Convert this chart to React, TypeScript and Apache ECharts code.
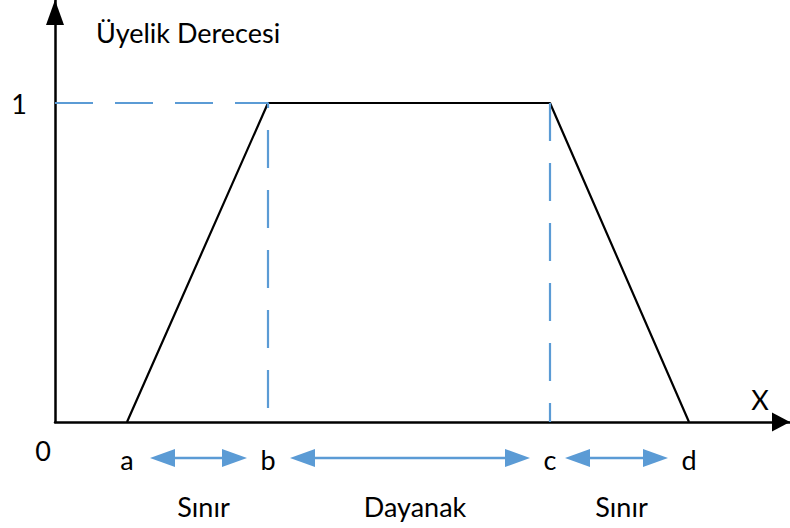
import React, { useEffect, useRef } from 'react';
import * as echarts from 'echarts';

// ---- data ----
const pointLabels = ['a', 'b', 'c', 'd'];
const pointX = [72, 213, 495, 634];
const membership = [0, 1, 1, 0];
const spanLabels = ['Sınır', 'Dayanak', 'Sınır'];
const yTickValues = [1];
const yTickLabels = ['1'];
const originLabel = '0';
const xAxisName = 'X';
const yAxisName = 'Üyelik Derecesi';
const xMax = 735;
const yMax = 422 / 319;

const FONT = 'Lato';
const FS = 27;
const BLUE = '#5B9BD5';

export default function App() {
  const ref = useRef<HTMLDivElement>(null);
  useEffect(() => {
    const chart = echarts.init(ref.current!, null, { renderer: 'svg' });
    const option: any = {
      animation: false,
      grid: { left: 55, right: 0, top: 0, bottom: 106, containLabel: false, outerBoundsMode: 'none' },
      xAxis: {
        type: 'value',
        min: 0,
        max: xMax,
        axisLine: {
          show: true,
          onZero: false,
          symbol: ['none', 'triangle'],
          symbolSize: [19, 18],
          symbolOffset: [0, -9],
          lineStyle: { color: '#000', width: 2.5 },
        },
        axisTick: { show: false },
        splitLine: { show: false },
        axisLabel: {
          customValues: pointX,
          formatter: (v: number) => pointLabels[pointX.indexOf(v)] ?? '',
          margin: 24,
          color: '#000',
          fontFamily: FONT,
          fontSize: FS,
        },
      },
      yAxis: {
        type: 'value',
        min: 0,
        max: yMax,
        axisLine: {
          show: true,
          symbol: ['none', 'triangle'],
          symbolSize: [18, 25],
          symbolOffset: [0, -12.5],
          lineStyle: { color: '#000', width: 2.5 },
        },
        axisTick: { show: false },
        splitLine: { show: false },
        axisLabel: {
          customValues: yTickValues,
          formatter: (v: number) => yTickLabels[yTickValues.indexOf(v)] ?? '',
          margin: 28,
          color: '#000',
          fontFamily: FONT,
          fontSize: FS,
        },
      },
      series: [
        {
          type: 'line',
          data: pointX.map((x, i) => [x, membership[i]]),
          symbol: 'none',
          lineStyle: { color: '#000', width: 2.2 },
          clip: false,
          z: 2,
        },
        {
          type: 'line',
          data: [
            [0, membership[1]],
            [pointX[1], membership[1]],
            [pointX[1], 0],
          ],
          symbol: 'none',
          lineStyle: { color: BLUE, width: 2.2, type: [38, 22] },
          clip: false,
          z: 3,
        },
        {
          type: 'line',
          data: [
            [pointX[2], membership[2]],
            [pointX[2], 0],
          ],
          symbol: 'none',
          lineStyle: { color: BLUE, width: 2.2, type: [38, 22] },
          clip: false,
          z: 3,
        },
      ],
    };
    chart.setOption(option);

    const origin = chart.convertToPixel({ gridIndex: 0 }, [0, 0]) as number[];
    const px = pointX.map((x) => (chart.convertToPixel({ gridIndex: 0 }, [x, 0]) as number[])[0]);
    const ay = origin[1];
    const arrowY = ay + 36;
    const startGap = [23, 22, 15];
    const endGap = [21, 20, 21];
    const headL = 25;
    const headW = 9;
    const font = `${FS}px ${FONT}`;

    const elements: any[] = [];
    spanLabels.forEach((lab, i) => {
      const x1 = px[i] + startGap[i];
      const x2 = px[i + 1] - endGap[i];
      elements.push({
        type: 'line',
        shape: { x1: x1 + headL - 2, y1: arrowY, x2: x2 - headL + 2, y2: arrowY },
        style: { stroke: BLUE, lineWidth: 2.5 },
      });
      elements.push({
        type: 'polygon',
        shape: { points: [[x1, arrowY], [x1 + headL, arrowY - headW], [x1 + headL, arrowY + headW]] },
        style: { fill: BLUE },
      });
      elements.push({
        type: 'polygon',
        shape: { points: [[x2, arrowY], [x2 - headL, arrowY - headW], [x2 - headL, arrowY + headW]] },
        style: { fill: BLUE },
      });
      elements.push({
        type: 'text',
        x: (x1 + x2) / 2 + 5,
        y: ay + 84,
        style: { text: lab, font, fill: '#000', align: 'center', verticalAlign: 'middle' },
      });
    });
    elements.push({
      type: 'text',
      x: origin[0] + 41,
      y: 32,
      style: { text: yAxisName, font, fill: '#000', align: 'left', verticalAlign: 'middle' },
    });
    elements.push({
      type: 'text',
      x: origin[0] - 12,
      y: ay + 28,
      style: { text: originLabel, font, fill: '#000', align: 'center', verticalAlign: 'middle' },
    });
    elements.push({
      type: 'text',
      x: 760,
      y: ay - 23,
      style: { text: xAxisName, font, fill: '#000', align: 'center', verticalAlign: 'middle' },
    });
    chart.setOption({ graphic: { elements } });

    return () => chart.dispose();
  }, []);
  return (
    <div
      ref={ref}
      style={{ position: 'fixed', left: 0, top: 0, width: 790, height: 528, background: '#fff' }}
    />
  );
}
